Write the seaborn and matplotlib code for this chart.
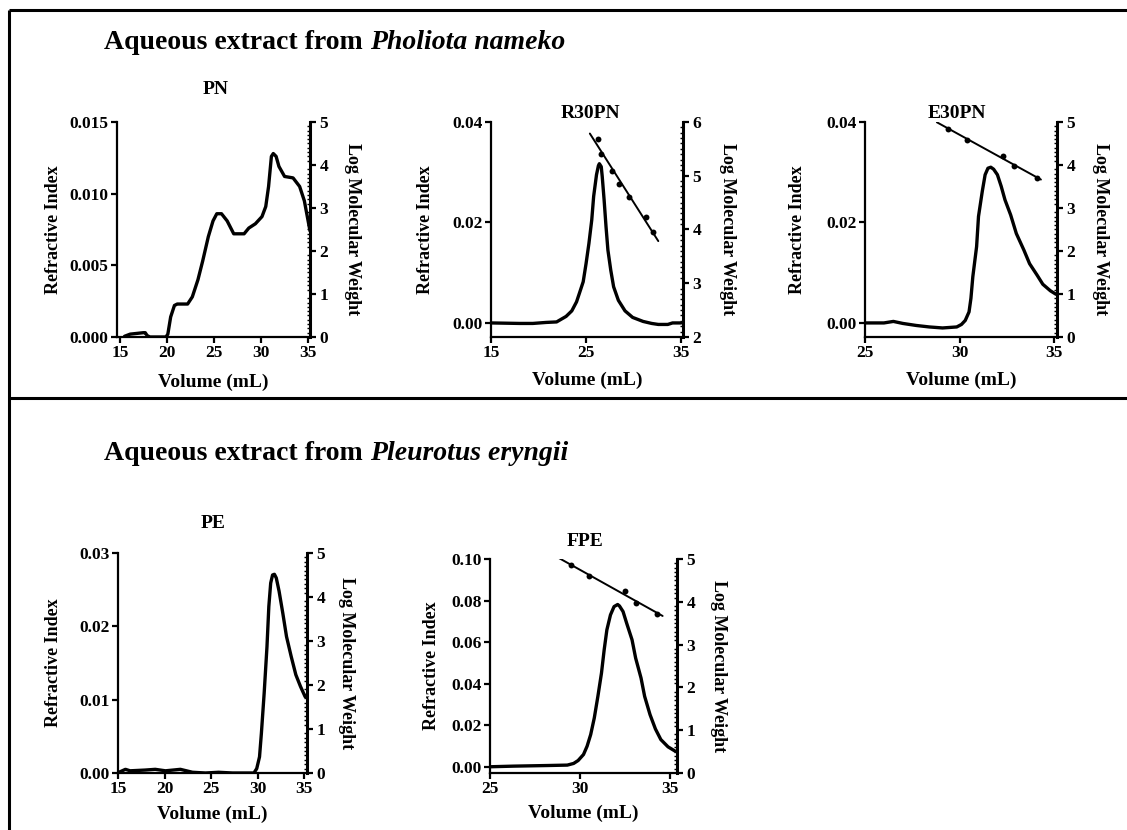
import numpy as np
import pandas as pd
import matplotlib
matplotlib.use("Agg")
import matplotlib.pyplot as plt
from matplotlib.ticker import MultipleLocator, FixedLocator
from matplotlib.lines import Line2D
import seaborn as sns

# ---------------- data ----------------
# Refractive-index elution profiles (volume in mL, RI signal)
pn_vol = [15.5, 16.1, 17.5, 17.7, 17.9, 18.2, 19.9, 20.1, 20.4, 20.8, 21.1, 22.2, 22.7, 23.3,
          23.8, 24.4, 24.9, 25.3, 25.8, 26.4, 27.1, 27.6, 28.2, 28.7, 29.4, 30.1, 30.5, 30.8,
          31.0, 31.1, 31.3, 31.6, 31.9, 32.5, 33.4, 34.1, 34.6, 35.2]
pn_ri = [0.00005, 0.0002, 0.0003, 0.0003, 0.0001, 0.0, 0.0, 0.0002, 0.0014, 0.0022, 0.0023,
         0.0023, 0.0028, 0.0040, 0.0053, 0.0070, 0.0081, 0.0086, 0.0086, 0.0081, 0.0072,
         0.0072, 0.0072, 0.0076, 0.0079, 0.0084, 0.0091, 0.0105, 0.0119, 0.0126, 0.0128,
         0.0126, 0.0119, 0.0112, 0.0111, 0.0105, 0.0095, 0.0074]

r30pn_vol = [15.0, 18.0, 19.4, 20.8, 21.9, 22.9, 23.5, 24.0, 24.3, 24.7, 25.0, 25.3, 25.6,
             25.8, 26.1, 26.3, 26.4, 26.6, 26.7, 26.9, 27.1, 27.3, 27.6, 27.9, 28.4, 29.1,
             29.9, 31.0, 31.9, 32.6, 33.6, 34.1, 35.0]
r30pn_ri = [0.0, -0.0001, -0.0001, 0.0001, 0.0002, 0.0013, 0.0024, 0.0042, 0.0059, 0.0082,
            0.0118, 0.0158, 0.0205, 0.0252, 0.0295, 0.0313, 0.0317, 0.0311, 0.0292, 0.0245,
            0.0192, 0.0145, 0.0105, 0.0072, 0.0045, 0.0024, 0.0011, 0.0003, -0.0001,
            -0.0003, -0.0003, 0.0, 0.0]
r30pn_mw_vol = [26.3, 26.6, 27.7, 28.5, 29.5, 31.3, 32.0]
r30pn_logmw = [5.68, 5.41, 5.08, 4.85, 4.60, 4.23, 3.95]
r30pn_fit_span = [25.4, 32.6]

e30pn_vol = [25.0, 26.0, 26.5, 27.0, 27.7, 28.4, 29.1, 29.85, 30.1, 30.3, 30.5, 30.6, 30.7,
             30.9, 31.0, 31.2, 31.35, 31.5, 31.65, 31.8, 32.0, 32.2, 32.4, 32.7, 33.0, 33.4,
             33.7, 34.1, 34.4, 34.8, 35.1]
e30pn_ri = [0.0, 0.0, 0.0003, -0.0001, -0.0005, -0.0008, -0.0010, -0.0008, -0.0003, 0.0005,
            0.0022, 0.0049, 0.0092, 0.0152, 0.0212, 0.0262, 0.0295, 0.0308, 0.0310, 0.0306,
            0.0295, 0.0272, 0.0245, 0.0215, 0.0178, 0.0145, 0.0118, 0.0095, 0.0077, 0.0064,
            0.0057]
e30pn_mw_vol = [29.4, 30.4, 32.3, 32.9, 34.1]
e30pn_logmw = [4.84, 4.59, 4.22, 3.97, 3.69]
e30pn_fit_span = [28.8, 34.3]

pe_vol = [15.1, 15.8, 16.3, 17.9, 19.0, 20.1, 21.7, 23.0, 24.4, 25.8, 27.3, 29.6, 29.9, 30.2,
          30.4, 30.7, 31.0, 31.2, 31.4, 31.6, 31.8, 32.0, 32.3, 32.7, 33.1, 33.6, 34.1, 34.6,
          35.1]
pe_ri = [0.0001, 0.0005, 0.0003, 0.0004, 0.0005, 0.0003, 0.0005, 0.0001, 0.0, 0.0001, 0.0,
         0.0, 0.0006, 0.0022, 0.0054, 0.0109, 0.0172, 0.0227, 0.0259, 0.0270, 0.0271, 0.0266,
         0.0248, 0.0218, 0.0186, 0.0159, 0.0134, 0.0118, 0.0104]

fpe_vol = [25.0, 26.3, 28.2, 29.3, 29.65, 29.9, 30.2, 30.4, 30.6, 30.8, 31.0, 31.2, 31.35,
           31.5, 31.7, 31.9, 32.1, 32.2, 32.4, 32.6, 32.9, 33.1, 33.4, 33.6, 33.9, 34.2, 34.5,
           34.9, 35.3]
fpe_ri = [0.0, 0.0003, 0.0006, 0.0008, 0.0016, 0.0030, 0.0059, 0.0099, 0.0155, 0.0235,
          0.0339, 0.0451, 0.0563, 0.0659, 0.0731, 0.0771, 0.0781, 0.0774, 0.0747, 0.0691,
          0.0611, 0.0523, 0.0427, 0.0339, 0.0251, 0.0182, 0.0131, 0.0096, 0.0075]
fpe_mw_vol = [29.5, 30.5, 32.5, 33.1, 34.3]
fpe_logmw = [4.86, 4.61, 4.25, 3.98, 3.72]
fpe_fit_span = [28.6, 34.6]

# axis ticks
pn_xticks = [15, 20, 25, 30, 35]
wide_xticks = [15, 25, 35]
late_xticks = [25, 30, 35]
pn_yticks = [0.000, 0.005, 0.010, 0.015]
r30pn_yticks = [0.00, 0.02, 0.04]
e30pn_yticks = [0.00, 0.02, 0.04]
pe_yticks = [0.00, 0.01, 0.02, 0.03]
fpe_yticks = [0.00, 0.02, 0.04, 0.06, 0.08, 0.10]
mw_ticks_0_5 = [0, 1, 2, 3, 4, 5]
mw_ticks_2_6 = [2, 3, 4, 5, 6]

# ---------------- style ----------------
sns.set_theme(style="ticks")
plt.rcParams['font.family'] = ['Liberation Serif', 'DejaVu Serif']
plt.rcParams['font.weight'] = 'bold'
plt.rcParams['axes.labelweight'] = 'bold'
plt.rcParams['text.color'] = 'black'
plt.rcParams['axes.labelcolor'] = 'black'
plt.rcParams['axes.linewidth'] = 1.6
plt.rcParams['xtick.major.width'] = 1.6
plt.rcParams['ytick.major.width'] = 1.6
plt.rcParams['xtick.major.size'] = 4
plt.rcParams['ytick.major.size'] = 4
plt.rcParams['xtick.color'] = 'black'
plt.rcParams['ytick.color'] = 'black'
plt.rcParams['axes.edgecolor'] = 'black'

W, H = 1127, 830
fig = plt.figure(figsize=(W / 100, H / 100), dpi=100)

TICK_FS = 12.5
XLABEL_FS = 14
YLABEL_FS = 13
PANEL_FS = 14


def box(left, top, right, bottom):
    return fig.add_axes([left / W, 1 - bottom / H, (right - left) / W, (bottom - top) / H])


def fmt(v, nd):
    return f"{v:.{nd}f}"


def panel(rect, vol, ri, xlim, xticks, ylim, yticks, ydec, mwlim, mwticks,
          title, title_xy, label_x, mw_vol=None, mw=None, fit_span=None):
    left, top, right, bottom = rect
    wpx, hpx = right - left, bottom - top
    ax = box(*rect)
    df = pd.DataFrame({"vol": vol, "ri": ri})
    sns.lineplot(data=df, x="vol", y="ri", ax=ax, color="black", linewidth=2.4,
                 estimator=None, sort=False)
    ax.lines[-1].set_solid_joinstyle("round")
    ax.set_xlim(*xlim)
    ax.set_ylim(*ylim)
    ax.xaxis.set_major_locator(FixedLocator(xticks))
    ax.set_xticklabels([str(t) for t in xticks])
    ax.yaxis.set_major_locator(FixedLocator(yticks))
    ax.set_yticklabels([fmt(t, ydec) for t in yticks])
    ax.tick_params(labelsize=TICK_FS, direction="out", pad=2)
    for lab in ax.get_xticklabels() + ax.get_yticklabels():
        lab.set_fontweight("bold")
    ax.spines["top"].set_visible(False)
    ax.spines["right"].set_visible(False)
    ax.set_xlabel("Volume (mL)", fontsize=XLABEL_FS, fontweight="bold")
    ax.xaxis.set_label_coords(0.5, -(label_x[2] - bottom) / hpx)
    ax.xaxis.label.set_verticalalignment("center")
    ax.set_ylabel("Refractive Index", fontsize=YLABEL_FS, fontweight="bold")
    ax.yaxis.set_label_coords((label_x[0] - left) / wpx, 0.5)
    ax.yaxis.label.set_verticalalignment("center")

    ax2 = ax.twinx()
    ax2.set_ylim(*mwlim)
    ax2.yaxis.set_major_locator(FixedLocator(mwticks))
    ax2.yaxis.set_minor_locator(MultipleLocator(0.1))
    ax2.tick_params(axis="y", which="minor", length=2, width=1.0, direction="in")
    ax2.tick_params(axis="y", which="major", labelsize=TICK_FS, pad=3)
    ax2.set_yticklabels([str(t) for t in mwticks])
    for lab in ax2.get_yticklabels():
        lab.set_fontweight("bold")
    for s in ["top", "left", "bottom"]:
        ax2.spines[s].set_visible(False)
    ax2.spines["right"].set_linewidth(2.2)
    ax2.set_ylabel("Log Molecular Weight", fontsize=YLABEL_FS, fontweight="bold",
                   rotation=270)
    ax2.yaxis.set_label_coords((label_x[1] - left) / wpx, 0.5)
    ax2.yaxis.label.set_verticalalignment("center")

    if mw_vol is not None:
        coef = np.polyfit(mw_vol, mw, 1)
        fx = np.array(fit_span)
        sns.lineplot(x=fx, y=np.polyval(coef, fx), ax=ax2, color="black", linewidth=1.4)
        sns.scatterplot(x=mw_vol, y=mw, ax=ax2, color="black", s=18, edgecolor="black",
                        linewidth=0, zorder=5)
    ax2.set_xlim(*xlim)

    fig.text(title_xy[0] / W, 1 - title_xy[1] / H, title, fontsize=PANEL_FS,
             fontweight="bold", ha="center", va="center")
    return ax, ax2


panel((117, 122, 310, 337), pn_vol, pn_ri, (14.7, 35.2), pn_xticks, (0, 0.015),
      pn_yticks, 3, (0, 5), mw_ticks_0_5, "PN", (216, 90), (53, 353, 382))
panel((491, 122, 683, 337), r30pn_vol, r30pn_ri, (15, 35.2), wide_xticks, (-0.0028, 0.04),
      r30pn_yticks, 2, (2, 6), mw_ticks_2_6, "R30PN", (590, 113), (426, 727, 380),
      r30pn_mw_vol, r30pn_logmw, r30pn_fit_span)
panel((865, 122, 1057, 337), e30pn_vol, e30pn_ri, (25, 35.15), late_xticks, (-0.0028, 0.04),
      e30pn_yticks, 2, (0, 5), mw_ticks_0_5, "E30PN", (957, 113), (797, 1100, 380),
      e30pn_mw_vol, e30pn_logmw, e30pn_fit_span)
panel((118, 553, 307, 773), pe_vol, pe_ri, (15, 35.3), pn_xticks, (0, 0.03),
      pe_yticks, 2, (0, 5), mw_ticks_0_5, "PE", (213, 523), (54, 347, 814),
      )
panel((490, 559, 677, 773), fpe_vol, fpe_ri, (25, 35.4), late_xticks, (-0.003, 0.10),
      fpe_yticks, 2, (0, 5), mw_ticks_0_5, "FPE", (585, 542), (432, 719, 813),
      fpe_mw_vol, fpe_logmw, fpe_fit_span)

# ---------------- frame lines ----------------
for xs, ys in [((8.5, W), (10, 10)), ((8.5, 8.5), (10, H)), ((8.5, W), (398, 398))]:
    fig.add_artist(Line2D([x / W for x in xs], [1 - y / H for y in ys], color="black",
                          linewidth=2.2, solid_capstyle="butt"))

# ---------------- section headings ----------------
renderer = fig.canvas.get_renderer()


def heading(x, y, plain, italic, size=20):
    t = fig.text(x / W, 1 - y / H, plain, fontsize=size, fontweight="bold",
                 ha="left", va="baseline")
    bb = t.get_window_extent(renderer=renderer)
    fig.text(bb.x1 / W, 1 - y / H, italic, fontsize=size, fontweight="bold",
             style="italic", ha="left", va="baseline")


heading(104, 49, "Aqueous extract from ", "Pholiota nameko")
heading(104, 460, "Aqueous extract from ", "Pleurotus eryngii")

fig.savefig("out.png", dpi=100)
